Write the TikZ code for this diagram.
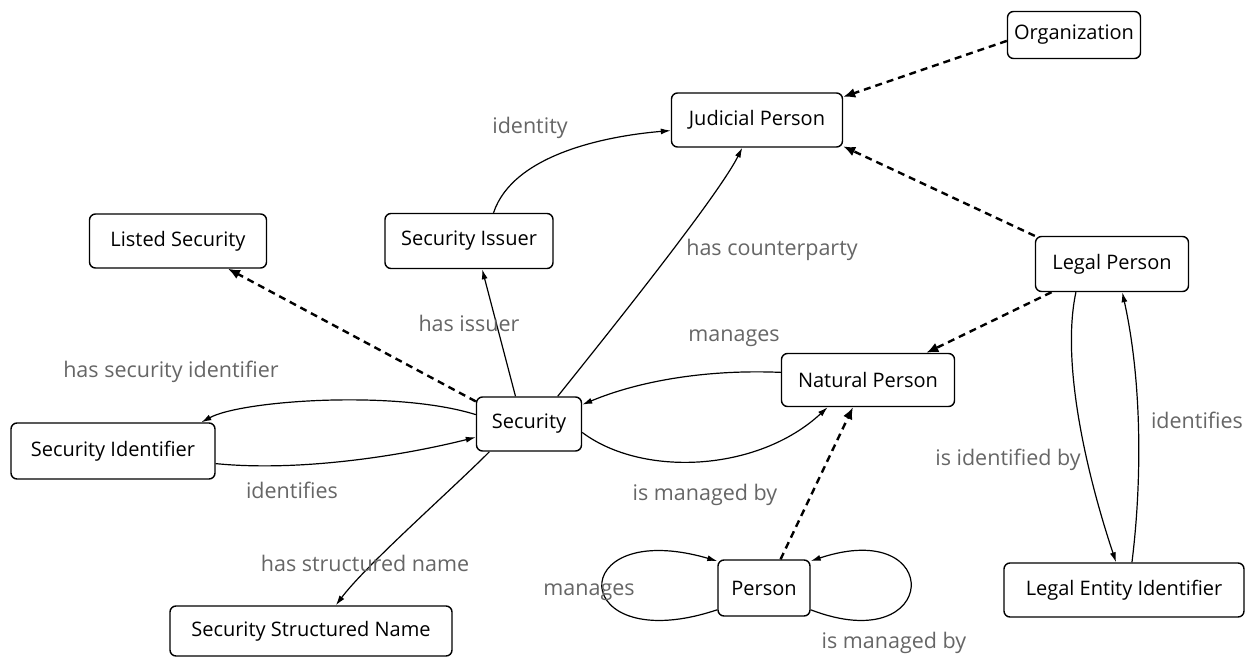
\documentclass[tikz,border=0pt]{standalone}
\usepackage{fontspec}
\setmainfont{Open Sans}
\usetikzlibrary{arrows.meta}
\begin{document}
\begin{tikzpicture}[x=1pt,y=-1pt,
  box/.style={draw, rounded corners=6pt, line width=1.4pt, fill=white,
    font=\fontsize{20}{24}\selectfont, inner sep=0pt, align=center},
  rel/.style={line width=1.2pt, -{Latex[length=10pt,width=6pt]}},
  isa/.style={line width=2.4pt, dash pattern=on 7pt off 5pt, -{Latex[length=12pt,width=10pt]}},
  lbl/.style={text=black!60, font=\fontsize{21.5}{24}\selectfont, inner sep=0pt}]
\useasboundingbox (0,0) rectangle (1248,658);
\fill[white] (0,0) rectangle (1248,658);

% classes
\node[box, minimum width=133pt, minimum height=47pt] (org) at (1074,35) {Organization};
\node[box, minimum width=171pt, minimum height=54pt] (jp)  at (757,120) {Judicial Person};
\node[box, minimum width=177pt, minimum height=54pt] (ls)  at (178,241) {Listed Security};
\node[box, minimum width=168pt, minimum height=55pt] (si)  at (469,241) {Security Issuer};
\node[box, minimum width=153pt, minimum height=55pt] (lp)  at (1112,264) {Legal Person};
\node[box, minimum width=173pt, minimum height=53pt] (np)  at (868,380) {Natural Person};
\node[box, minimum width=105pt, minimum height=54pt] (sec) at (529,424) {Security};
\node[box, minimum width=204pt, minimum height=56pt] (sid) at (113,451) {Security Identifier};
\node[box, minimum width=240pt, minimum height=54pt] (lei) at (1124,590) {Legal Entity Identifier};
\node[box, minimum width=92pt,  minimum height=56pt] (per) at (764,588) {Person};
\node[box, minimum width=282pt, minimum height=50pt] (ssn) at (311,631) {Security Structured Name};

% subclass links
\draw[isa] (org.185) -- (jp.15);
\draw[isa] (lp.160) -- (jp.343);
\draw[isa] (lp.205) -- (np.25);
\draw[isa] (per.60) -- (np.241);
\draw[isa] (sec.157) -- (ls.331);

% properties
\draw[rel] (si.49) .. controls +(20,-60) and +(-60,5) .. (jp.187);
\draw[rel] (sec.116) -- (si.295);
\draw[rel] (sec.44) .. controls +(40,-50) and +(-25,50) .. (jp.242);
\draw[rel] (np.175) .. controls +(-70,-3) and +(60,-25) .. (sec.20);
\draw[rel] (sec.351) .. controls +(60,45) and +(-70,65) .. (np.214);
\draw[rel] (sec.170) .. controls +(-80,-25) and +(40,-22) .. (sid.18);
\draw[rel] (sid.353) .. controls +(80,8) and +(-80,20) .. (sec.194);
\draw[rel] (sec.215) .. controls +(-40,40) and +(30,-40) .. (ssn.46);
\draw[rel] (lp.218) .. controls +(-15,70) and +(-30,-90) .. (lei.106);
\draw[rel] (lei.74) .. controls +(10,-80) and +(20,90) .. (lp.290);
\draw[rel] (per.205) .. controls +(-150,50) and +(-155,-45) .. (per.150);
\draw[rel] (per.335) .. controls +(130,50) and +(135,-45) .. (per.30);

% property labels
\node[lbl] (l1)  at (530,128) {identity};
\node[lbl] (l2)  at (772,250) {has counterparty};
\node[lbl] (l3)  at (469,323) {has issuer};
\node[lbl] (l4)  at (734,338) {manages};
\node[lbl] (l5)  at (171,372) {has security identifier};
\node[lbl] (l6)  at (292,490) {identifies};
\node[lbl] (l7)  at (705,495) {is managed by};
\node[lbl] (l8)  at (365,563) {has structured name};
\node[lbl] (l9)  at (589,592) {manages};
\node[lbl] (l10) at (894,643) {is managed by};
\node[lbl] (l11) at (1008,460) {is identified by};
\node[lbl] (l12) at (1197,420) {identifies};
\end{tikzpicture}
\end{document}
